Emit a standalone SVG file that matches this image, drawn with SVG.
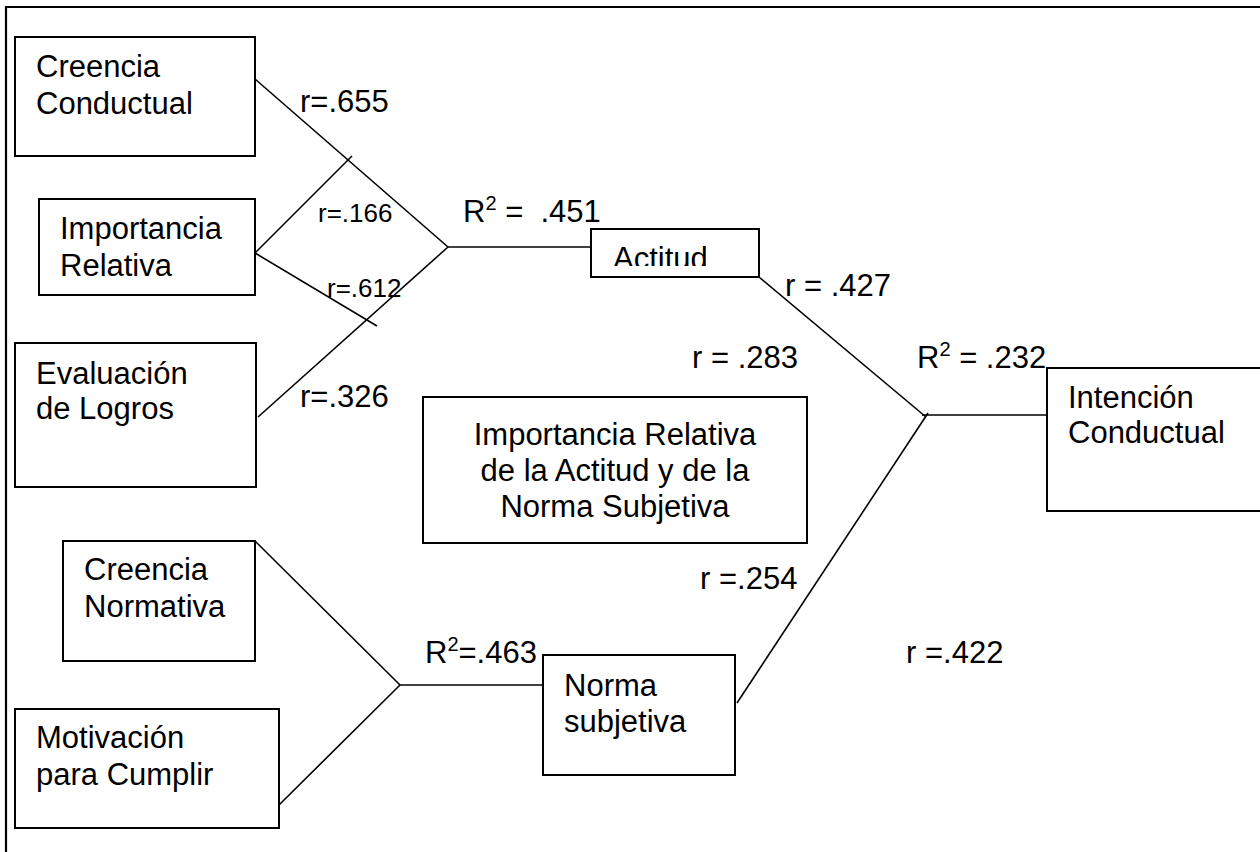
<svg xmlns="http://www.w3.org/2000/svg" width="1260" height="852" viewBox="0 0 1260 852">
<defs>
<style>
.box{fill:#fff;stroke:#000;stroke-width:2}
.ln{fill:none;stroke:#000;stroke-width:1.6}
.t{font-family:"Liberation Sans",Arial,sans-serif;font-size:31px;fill:#000}
.s{font-family:"Liberation Sans",Arial,sans-serif;font-size:26px;fill:#000}
</style>
<clipPath id="clipAct"><rect x="592" y="230" width="166" height="36"/></clipPath>
</defs>
<rect width="1260" height="852" fill="#fff"/>
<g id="frame">
<path class="ln" style="stroke-width:2.2" d="M6,852 V7 H1260"/>
</g>
<g id="connectors">
<path class="ln" d="M255,79 L448,247"/>
<path class="ln" d="M255,253 L352,156"/>
<path class="ln" d="M255,253 L377,326"/>
<path class="ln" d="M258,417 L448,247"/>
<path class="ln" d="M448,247 H591"/>
<path class="ln" d="M759,277 L926,417"/>
<path class="ln" d="M922,415 H1047"/>
<path class="ln" d="M737,703 L928,413"/>
<path class="ln" d="M255,541 L400,685"/>
<path class="ln" d="M279,805 L400,685"/>
<path class="ln" d="M400,685 H543"/>
</g>
<g id="labels">
<text class="t" x="300" y="112">r=.655</text>
<text class="s" x="318" y="222">r=.166</text>
<text class="s" x="327" y="297">r=.612</text>
<text class="t" x="300" y="407">r=.326</text>
<text class="t" x="463" y="222">R<tspan font-size="20" dy="-12">2</tspan><tspan dy="12" xml:space="preserve"> =  .451</tspan></text>
<text class="t" x="785" y="296">r = .427</text>
<text class="t" x="692" y="368">r = .283</text>
<text class="t" x="917" y="368">R<tspan font-size="20" dy="-12">2</tspan><tspan dy="12"> = .232</tspan></text>
<text class="t" x="700" y="589">r =.254</text>
<text class="t" x="425" y="663">R<tspan font-size="20" dy="-12">2</tspan><tspan dy="12">=.463</tspan></text>
<text class="t" x="906" y="663">r =.422</text>
</g>
<g id="creencia-conductual">
<rect class="box" x="15" y="37" width="240" height="119"/>
<text class="t" x="36" y="77">Creencia</text>
<text class="t" x="36" y="114">Conductual</text>
</g>
<g id="importancia-relativa">
<rect class="box" x="39" y="199" width="216" height="96"/>
<text class="t" x="60" y="239">Importancia</text>
<text class="t" x="60" y="276">Relativa</text>
</g>
<g id="evaluacion-logros">
<rect class="box" x="15" y="343" width="241" height="144"/>
<text class="t" x="36" y="384">Evaluación</text>
<text class="t" x="36" y="419">de Logros</text>
</g>
<g id="actitud">
<rect class="box" x="591" y="229" width="168" height="48"/>
<text class="t" x="613" y="269" clip-path="url(#clipAct)">Actitud</text>
</g>
<g id="importancia-actitud-norma">
<rect class="box" x="423" y="397" width="384" height="146"/>
<text class="t" x="615" y="445" text-anchor="middle">Importancia Relativa</text>
<text class="t" x="615" y="481" text-anchor="middle">de la Actitud y de la</text>
<text class="t" x="615" y="517" text-anchor="middle">Norma Subjetiva</text>
</g>
<g id="intencion-conductual">
<rect class="box" x="1047" y="368" width="220" height="143"/>
<text class="t" x="1068" y="408">Intención</text>
<text class="t" x="1068" y="443">Conductual</text>
</g>
<g id="creencia-normativa">
<rect class="box" x="63" y="541" width="192" height="120"/>
<text class="t" x="84" y="580">Creencia</text>
<text class="t" x="84" y="617">Normativa</text>
</g>
<g id="motivacion-cumplir">
<rect class="box" x="15" y="709" width="264" height="119"/>
<text class="t" x="36" y="748">Motivación</text>
<text class="t" x="36" y="785">para Cumplir</text>
</g>
<g id="norma-subjetiva">
<rect class="box" x="543" y="655" width="192" height="120"/>
<text class="t" x="564" y="696">Norma</text>
<text class="t" x="564" y="732">subjetiva</text>
</g>
</svg>
